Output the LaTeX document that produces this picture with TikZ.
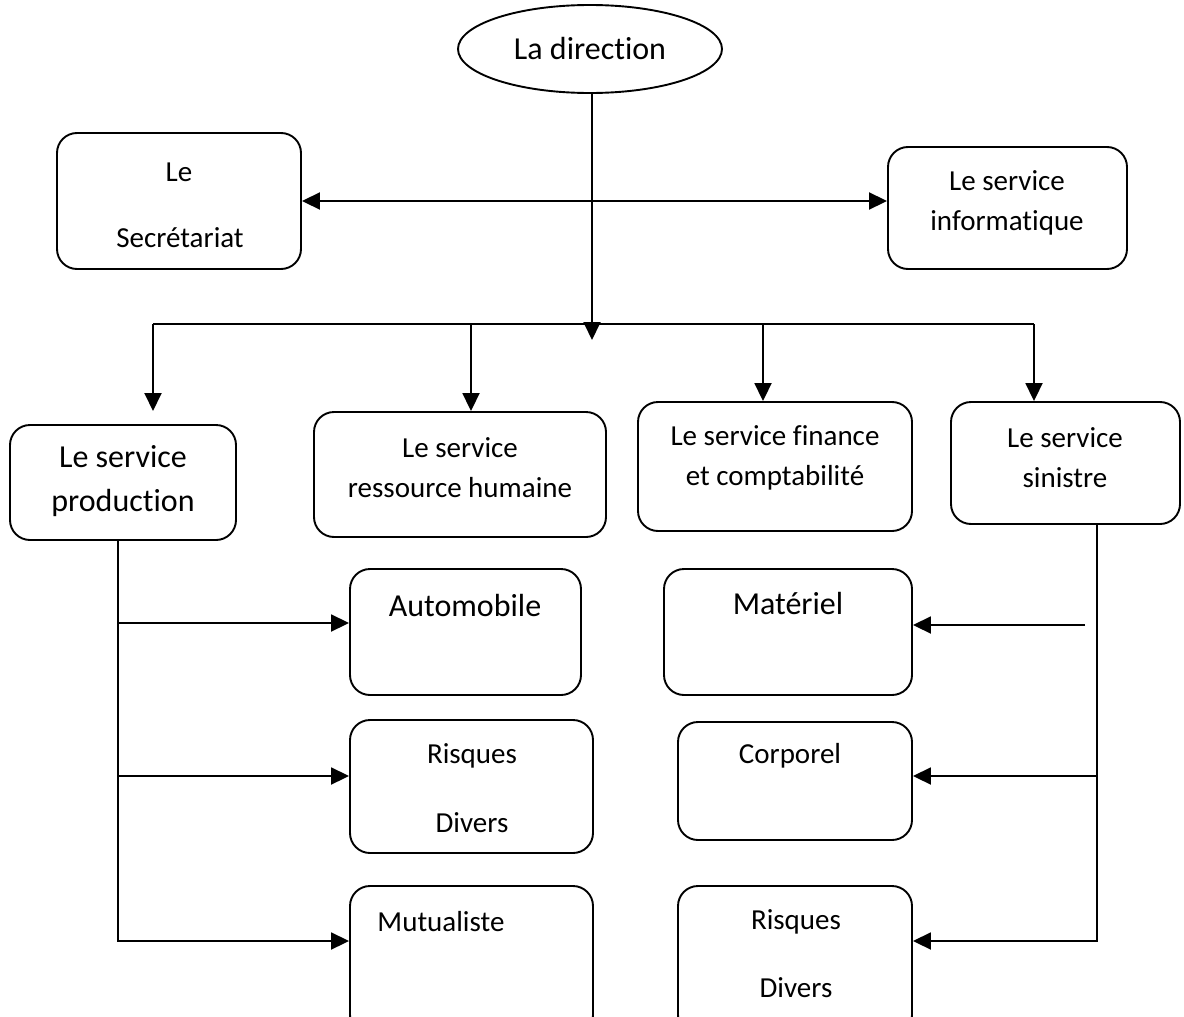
\documentclass[tikz,border=0pt]{standalone}
\usepackage{fontspec}
\setmainfont{Carlito}[Ligatures={NoCommon}]
\usetikzlibrary{arrows.meta,shapes.geometric,fit}

\begin{document}
\begin{tikzpicture}[x=1pt,y=-1pt,
  box/.style={draw, line width=1.9pt, rounded corners=20pt, inner sep=0pt},
  small/.style={inner sep=0pt, align=center, font=\fontsize{29}{40}\selectfont},
  large/.style={inner sep=0pt, align=center, font=\fontsize{32}{44}\selectfont},
  link/.style={line width=1.9pt},
  arr/.style={link, -{Triangle[length=18pt,width=17pt]}},
  dblarr/.style={link, {Triangle[length=18pt,width=17pt]}-{Triangle[length=18pt,width=17pt]}},
]
\useasboundingbox (0,0) rectangle (1184,1017);
\clip (0,0) rectangle (1184,1017);
\fill[white] (0,0) rectangle (1184,1017);

% top of the hierarchy
\node[draw, line width=1.9pt, ellipse, minimum width=264pt, minimum height=88pt, inner sep=0pt] (dir) at (590,49) {};
\node[large] (tdir) at (590,49) {La direction};

% staff services
\node[box, fit={(57,133) (301,269)}] (sec) {};
\node[small] (tsec1) at (179,172) {Le};
\node[small] (tsec2) at (180,238) {Secrétariat};

\node[box, fit={(888,147) (1127,269)}] (info) {};
\node[small] (tinfo) at (1007,203) {Le service\\informatique};

% departments
\node[box, fit={(10,425) (236,540)}] (prod) {};
\node[large] (tprod) at (123,481) {Le service\\production};

\node[box, fit={(314,412) (606,537)}] (ress) {};
\node[small] (tress) at (460,468) {Le service\\ressource humaine};

\node[box, fit={(638,402) (912,531)}] (fin) {};
\node[small] (tfin) at (775,458) {Le service finance\\et comptabilité};

\node[box, fit={(951,402) (1180,524)}] (sin) {};
\node[small] (tsin) at (1065,458) {Le service\\sinistre};

% production branches
\node[box, fit={(350,569) (581,695)}] (auto) {};
\node[large] (tauto) at (465,606) {Automobile};

\node[box, fit={(350,720) (593,853)}] (rdl) {};
\node[small] (trdl1) at (472,756) {Risques};
\node[small] (trdl2) at (472,823) {Divers};

\node[box, fit={(350,886) (593,1035)}] (mut) {};
\node[small] (tmut) at (441,922) {Mutualiste};

% claims branches
\node[box, fit={(664,569) (912,695)}] (mat) {};
\node[large] (tmat) at (788,604) {Matériel};

\node[box, fit={(678,722) (912,840)}] (corp) {};
\node[small] (tcorp) at (790,756) {Corporel};

\node[box, fit={(678,886) (912,1035)}] (rdr) {};
\node[small] (trdr1) at (796,922) {Risques};
\node[small] (trdr2) at (796,988) {Divers};

% direction links
\coordinate (hub) at (592,340);
\draw[arr] (dir.south -| hub) -- (hub);
\draw[dblarr] (sec.east) -- (sec.east -| info.west);

% distribution bus
\coordinate (busL) at (153,324);
\coordinate (busR) at (1034,324);
\coordinate (t2) at (471,324);
\coordinate (t3) at (763,324);
\coordinate (prodtip) at (153,411);
\draw[link] (busL) -- (busR);
\draw[arr] (busL) -- (prodtip);
\draw[arr] (t2) -- (t2 |- ress.north);
\draw[arr] (t3) -- (t3 |- fin.north);
\draw[arr] (busR) -- (busR |- sin.north);

% production trunk
\coordinate (p0) at (118,540);
\coordinate (p1) at (118,623);
\coordinate (p2) at (118,776);
\coordinate (p3) at (118,941);
\draw[arr] (p0) -- (p3) -- (p3 -| mut.west);
\draw[arr] (p1) -- (p1 -| auto.west);
\draw[arr] (p2) -- (p2 -| rdl.west);

% claims trunk
\coordinate (s0) at (1097,524);
\coordinate (s1) at (1085,625);
\coordinate (s2) at (1097,776);
\coordinate (s3) at (1097,941);
\draw[arr] (s0) -- (s3) -- (s3 -| rdr.east);
\draw[arr] (s1) -- (s1 -| mat.east);
\draw[arr] (s2) -- (s2 -| corp.east);
\end{tikzpicture}
\end{document}
